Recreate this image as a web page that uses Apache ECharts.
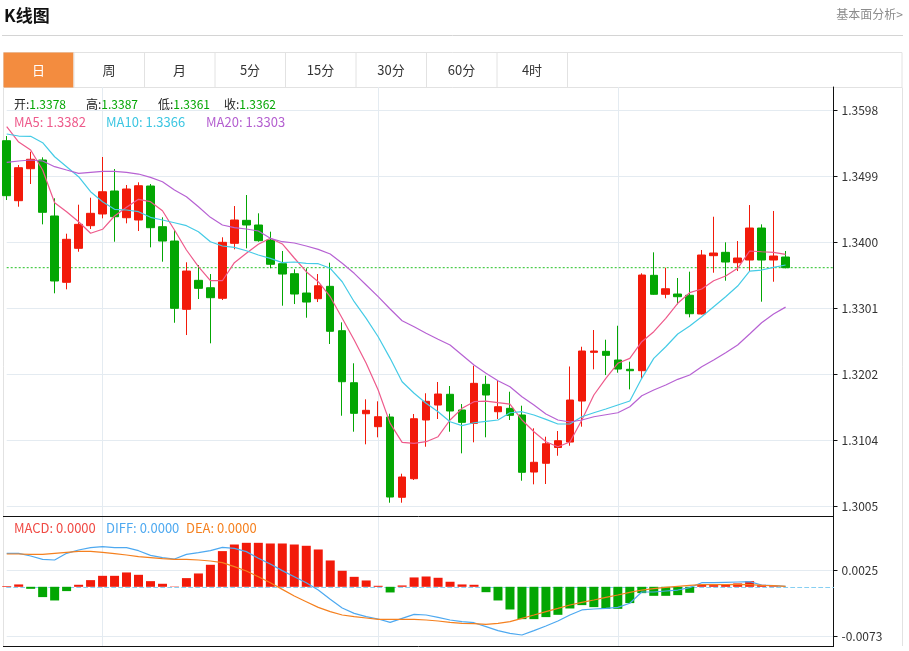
<!DOCTYPE html>
<html>
<head>
<meta charset="utf-8">
<title>K线图</title>
<script src="https://cdn.jsdelivr.net/npm/echarts@6.0.0/dist/echarts.min.js"></script>
<style>
    html, body { margin: 0; padding: 0; background: #fff; }
    #chart { width: 909px; height: 651px; }
</style>
</head>
<body>
<div id="chart"></div>
<script>
// K线 开/收/低/高
var openData = [1.35521, 1.34623, 1.35102, 1.35232, 1.34394, 1.33401, 1.33910, 1.34249, 1.34424, 1.34768,
    1.34368, 1.34334, 1.34843, 1.34234, 1.34019, 1.32997, 1.33431, 1.33320, 1.33162, 1.33985,
    1.34329, 1.34259, 1.34034, 1.33680, 1.33530, 1.33241, 1.33156, 1.33341, 1.32677, 1.31898,
    1.31434, 1.31240, 1.31385, 1.30183, 1.30461, 1.31340, 1.31564, 1.31725, 1.31490, 1.31290,
    1.31874, 1.31464, 1.31515, 1.31415, 1.30561, 1.30692, 1.30928, 1.31010, 1.31624, 1.32353,
    1.32368, 1.32238, 1.32099, 1.32078, 1.33506, 1.33222, 1.33226, 1.33207, 1.32927, 1.33800,
    1.33850, 1.33695, 1.33735, 1.34214, 1.33735, 1.3378];
var closeData = [1.34698, 1.35117, 1.35243, 1.34449, 1.33421, 1.34045, 1.34269, 1.34434, 1.34757, 1.34383,
    1.34798, 1.34847, 1.34219, 1.34019, 1.33012, 1.33570, 1.33311, 1.33171, 1.34000, 1.34334,
    1.34259, 1.34024, 1.33671, 1.33525, 1.33226, 1.33106, 1.33350, 1.32668, 1.31913, 1.31440,
    1.31485, 1.31389, 1.30187, 1.30487, 1.31359, 1.31620, 1.31729, 1.31475, 1.31305, 1.31889,
    1.31714, 1.31539, 1.31410, 1.30557, 1.30707, 1.30985, 1.31030, 1.31639, 1.32373, 1.32373,
    1.32308, 1.32103, 1.32078, 1.33510, 1.33222, 1.33305, 1.33186, 1.32931, 1.33810, 1.33840,
    1.33705, 1.33765, 1.34214, 1.33735, 1.33795, 1.3362];
var lowData = [1.34633, 1.34533, 1.34873, 1.34269, 1.33237, 1.33296, 1.33859, 1.34199, 1.34359, 1.34009,
    1.34284, 1.34169, 1.33925, 1.33710, 1.32796, 1.32612, 1.33151, 1.32488, 1.33136, 1.33895,
    1.33910, 1.34009, 1.33611, 1.33051, 1.33076, 1.32871, 1.33106, 1.32478, 1.31404, 1.31165,
    1.30976, 1.31081, 1.30102, 1.30102, 1.30442, 1.30940, 1.31355, 1.31165, 1.30841, 1.31006,
    1.31081, 1.31355, 1.31340, 1.30431, 1.30377, 1.30382, 1.30805, 1.30955, 1.31240, 1.32099,
    1.32013, 1.32048, 1.31799, 1.31954, 1.33215, 1.33162, 1.33072, 1.32877, 1.32920, 1.33545,
    1.33425, 1.33570, 1.33570, 1.33111, 1.33410, 1.3361];
var highData = [1.35591, 1.35157, 1.35356, 1.35272, 1.34659, 1.34129, 1.34563, 1.34668, 1.35277, 1.35097,
    1.34858, 1.34898, 1.34873, 1.34374, 1.34184, 1.33701, 1.33660, 1.33525, 1.34075, 1.34543,
    1.34708, 1.34434, 1.34159, 1.33870, 1.33596, 1.33611, 1.33525, 1.33695, 1.32802, 1.32189,
    1.31650, 1.31620, 1.31434, 1.30536, 1.31430, 1.31740, 1.31909, 1.31849, 1.31579, 1.32153,
    1.32003, 1.31939, 1.31763, 1.31554, 1.31216, 1.31090, 1.31175, 1.32141, 1.32437, 1.32687,
    1.32542, 1.32751, 1.32213, 1.33536, 1.33850, 1.33620, 1.33466, 1.33560, 1.33885, 1.34383,
    1.34000, 1.34019, 1.34558, 1.34269, 1.34469, 1.3387];

// 均线
var ma5Data = [1.35731, 1.35501, 1.35382, 1.35082, 1.34593, 1.34458, 1.34308, 1.34135, 1.34195, 1.34394,
    1.34524, 1.34644, 1.34608, 1.34473, 1.34184, 1.33885, 1.33635, 1.33425, 1.33425, 1.33695,
    1.33835, 1.33970, 1.34060, 1.33975, 1.33765, 1.33560, 1.33410, 1.33186, 1.32862, 1.32537,
    1.32189, 1.31789, 1.31290, 1.31006, 1.30991, 1.31015, 1.31090, 1.31340, 1.31515, 1.31614,
    1.31624, 1.31599, 1.31579, 1.31340, 1.31165, 1.31015, 1.30940, 1.31010, 1.31340, 1.31714,
    1.31964, 1.32189, 1.32263, 1.32512, 1.32662, 1.32862, 1.33087, 1.33246, 1.33301, 1.33425,
    1.33496, 1.33611, 1.33870, 1.33859, 1.33850, 1.3382];
var ma10Data = [1.35621, 1.35591, 1.35587, 1.35491, 1.35281, 1.35132, 1.34982, 1.34757, 1.34608, 1.34494,
    1.34484, 1.34458, 1.34374, 1.34334, 1.34293, 1.34249, 1.34159, 1.34009, 1.33945, 1.33925,
    1.33874, 1.33810, 1.33760, 1.33695, 1.33705, 1.33686, 1.33680, 1.33611, 1.33410, 1.33111,
    1.32862, 1.32587, 1.32263, 1.31913, 1.31740, 1.31590, 1.31464, 1.31314, 1.31255, 1.31299,
    1.31320, 1.31340, 1.31449, 1.31464, 1.31415, 1.31350, 1.31280, 1.31280, 1.31389, 1.31449,
    1.31504, 1.31564, 1.31624, 1.31964, 1.32263, 1.32437, 1.32627, 1.32747, 1.32886, 1.33036,
    1.33186, 1.33346, 1.33570, 1.33585, 1.33626, 1.3366];
var ma20Data = [1.35198, 1.35217, 1.35232, 1.35217, 1.35132, 1.35082, 1.35033, 1.35048, 1.35063, 1.35063,
    1.35048, 1.35022, 1.34973, 1.34907, 1.34783, 1.34683, 1.34533, 1.34374, 1.34259, 1.34219,
    1.34199, 1.34169, 1.34060, 1.34009, 1.33990, 1.33945, 1.33895, 1.33825, 1.33686, 1.33536,
    1.33361, 1.33186, 1.33002, 1.32826, 1.32737, 1.32638, 1.32548, 1.32463, 1.32313, 1.32163,
    1.32039, 1.31928, 1.31838, 1.31689, 1.31564, 1.31430, 1.31340, 1.31310, 1.31340, 1.31389,
    1.31419, 1.31449, 1.31539, 1.31704, 1.31789, 1.31864, 1.31949, 1.32013, 1.32138, 1.32238,
    1.32347, 1.32463, 1.32627, 1.32796, 1.32927, 1.3303];

// MACD 柱 / DIFF / DEA
var macdData = [0.0001, 0.00035, -0.0003, -0.00153, -0.00203, -0.00064, 0.0003, 0.00099, 0.00163, 0.00163,
    0.00213, 0.00178, 0.00084, 0.00045, 0.00005, 0.00129, 0.00198, 0.00327, 0.0053, 0.00628,
    0.00653, 0.00653, 0.00643, 0.00643, 0.00628, 0.00609, 0.00554, 0.00391, 0.00238, 0.00148,
    0.00094, 0.00015, -0.00084, 0.0002, 0.00139, 0.00153, 0.00134, 0.00075, 0.00035, 0.0003,
    -0.0008, -0.00203, -0.00337, -0.0048, -0.0048, -0.0045, -0.00416, -0.00322, -0.00272, -0.00302,
    -0.00327, -0.00327, -0.00242, -0.00094, -0.00134, -0.00134, -0.00124, -0.00089, 0.00035, 0.00025,
    0.0003, 0.0005, 0.00084, 0.0003, 0.0001, 0];
var diffData = [0.00497, 0.00497, 0.00457, 0.00408, 0.00398, 0.00497, 0.00546, 0.00581, 0.00596, 0.00581,
    0.00581, 0.00536, 0.00467, 0.00433, 0.00413, 0.00482, 0.00507, 0.00536, 0.00586, 0.00571,
    0.00522, 0.00423, 0.00339, 0.0024, 0.0015, 0.00061, -0.00048, -0.00186, -0.00315, -0.00394,
    -0.00443, -0.00478, -0.00528, -0.00468, -0.00409, -0.00419, -0.00453, -0.00493, -0.00518, -0.00533,
    -0.00592, -0.00651, -0.00691, -0.00716, -0.00651, -0.00582, -0.00508, -0.00419, -0.00344, -0.0033,
    -0.0032, -0.00305, -0.00245, -0.00077, -0.00077, -0.00062, -0.00048, -0.00013, 0.00061, 0.00061,
    0.00066, 0.00071, 0.00076, 0.00027, 0.00017, 0.00007];
var deaData = [0.00487, 0.00487, 0.00482, 0.00482, 0.00497, 0.00512, 0.00527, 0.00527, 0.00512, 0.00492,
    0.00472, 0.00447, 0.00433, 0.00418, 0.00408, 0.00408, 0.00398, 0.00383, 0.00358, 0.00299,
    0.00235, 0.0015, 0.00061, -0.00038, -0.00137, -0.00221, -0.00305, -0.00369, -0.00419, -0.00443,
    -0.00463, -0.00483, -0.00483, -0.00483, -0.00483, -0.00493, -0.00508, -0.00528, -0.00542, -0.00547,
    -0.00557, -0.00542, -0.00518, -0.00468, -0.00419, -0.00369, -0.0032, -0.0027, -0.00231, -0.00196,
    -0.00156, -0.00122, -0.00082, -0.00048, -0.00028, -0.00008, 0.00007, 0.00022, 0.00032, 0.00032,
    0.00032, 0.00037, 0.00032, 0.00022, 0.00017, 0.00007];

// 坐标轴刻度
var priceTicks = [1.30048, 1.31036, 1.32024, 1.33012, 1.34000, 1.34988, 1.35976];
var macdTicks = [0.0025, -0.0073];
var monthSplits = [8, 31, 51];   // 月份分隔竖线
var tabNames = ['日', '周', '月', '5分', '15分', '30分', '60分', '4时'];

// 类目: 66根K线 + 右侧4个空位
var categories = [];
for (var i = 0; i < 70; i++) {
    categories.push(String(i + 1));
}

var FONT = '"Microsoft YaHei", "Noto Sans CJK SC", sans-serif';
var UP = '#f21a0a';
var DOWN = '#03a603';
var GRID_LINE = '#e4ebf1';
var PRICE_LINE = '#22c022';

var kData = openData.map(function (o, i) {
    return [o, closeData[i], lowData[i], highData[i]];
});
var last = openData.length - 1;
var lastClose = closeData[last];
var lastColor = closeData[last] >= openData[last] ? UP : DOWN;
// 最新价水平线: 每个类目都取最新收盘价
var lastPriceLine = categories.map(function () { return lastClose; });

var dom = document.getElementById('chart');
var chart = echarts.init(dom, null, { renderer: 'canvas' });

// 页头、选项卡、边框和图例文字
var graphics = [
    { type: 'text', x: 4, y: 16, style: { text: 'K线图', font: 'bold 17px ' + FONT, fill: '#111', textVerticalAlign: 'middle' } },
    { type: 'text', x: 903, y: 14, style: { text: '基本面分析>', font: '12px ' + FONT, fill: '#8c8c8c', textAlign: 'right', textVerticalAlign: 'middle' } },
    { type: 'line', shape: { x1: 2, y1: 35.5, x2: 903, y2: 35.5 }, style: { stroke: '#d4d4d4', lineWidth: 1 } },
    { type: 'rect', shape: { x: 3.5, y: 52.5, width: 898.5, height: 35 }, style: { fill: '#fff', stroke: '#e2e2e2', lineWidth: 1 } },
    { type: 'rect', shape: { x: 3.5, y: 52.5, width: 70, height: 35 }, style: { fill: '#f38c3f' } },
    { type: 'line', shape: { x1: 3.5, y1: 87.5, x2: 3.5, y2: 646 }, style: { stroke: '#e2e2e2', lineWidth: 1 } },
    { type: 'line', shape: { x1: 902.5, y1: 87.5, x2: 902.5, y2: 646 }, style: { stroke: '#e2e2e2', lineWidth: 1 } },
    { type: 'line', shape: { x1: 3, y1: 516.5, x2: 834, y2: 516.5 }, style: { stroke: '#111', lineWidth: 1 }, z: 50 },
    { type: 'line', shape: { x1: 3, y1: 646.5, x2: 834, y2: 646.5 }, style: { stroke: '#111', lineWidth: 1 }, z: 50 }
];
tabNames.forEach(function (name, k) {
    var x0 = 3.5 + 70.5 * k;
    if (k > 0) {
        graphics.push({ type: 'line', shape: { x1: x0, y1: 52.5, x2: x0, y2: 87.5 }, style: { stroke: '#e2e2e2', lineWidth: 1 } });
    }
    graphics.push({
        type: 'text', x: x0 + 35, y: 70,
        style: { text: name, font: '13px ' + FONT, fill: k === 0 ? '#fff' : '#333', textAlign: 'center', textVerticalAlign: 'middle' }
    });
});
graphics.push({ type: 'line', shape: { x1: 567.5, y1: 52.5, x2: 567.5, y2: 87.5 }, style: { stroke: '#e2e2e2', lineWidth: 1 } });

function pairText(x, y, key, keyColor, val, valColor, size) {
    return {
        type: 'text', x: x, y: y, z: 100,
        style: {
            text: '{k|' + key + '}{v|' + val + '}',
            textVerticalAlign: 'middle',
            rich: {
                k: { font: size + 'px ' + FONT, fill: keyColor },
                v: { font: size + 'px ' + FONT, fill: valColor }
            }
        }
    };
}
graphics.push(pairText(14, 104, '开:', '#222', openData[last].toFixed(4), lastColor, 12));
graphics.push(pairText(86, 104, '高:', '#222', highData[last].toFixed(4), lastColor, 12));
graphics.push(pairText(158, 104, '低:', '#222', lowData[last].toFixed(4), lastColor, 12));
graphics.push(pairText(224, 104, '收:', '#222', closeData[last].toFixed(4), lastColor, 12));
graphics.push(pairText(14, 122, 'MA5: ', '#ee5a8b', ma5Data[last].toFixed(4), '#ee5a8b', 13));
graphics.push(pairText(106, 122, 'MA10: ', '#3cc6e2', ma10Data[last].toFixed(4), '#3cc6e2', 13));
graphics.push(pairText(206, 122, 'MA20: ', '#b45fd0', ma20Data[last].toFixed(4), '#b45fd0', 13));
graphics.push(pairText(14, 528, 'MACD: ', '#f04a44', '0.0000', '#f04a44', 13));
graphics.push(pairText(106, 528, 'DIFF: ', '#4ea9f0', '0.0000', '#4ea9f0', 13));
graphics.push(pairText(186, 528, 'DEA: ', '#f5801f', '0.0000', '#f5801f', 13));

var splitFn = function (idx) {
    return monthSplits.indexOf(idx) >= 0;
};

var option = {
    animation: false,
    backgroundColor: '#fff',
    textStyle: { fontFamily: FONT },
    graphic: graphics,
    grid: [
        { left: 6.7, right: 75.5, top: 87, height: 429 },
        { left: 6.7, right: 75.5, top: 516, height: 130 }
    ],
    xAxis: [
        {
            type: 'category', gridIndex: 0, data: categories, boundaryGap: false,
            axisLine: { show: false }, axisTick: { show: false }, axisLabel: { show: false },
            splitLine: { show: true, interval: splitFn, lineStyle: { color: GRID_LINE } }
        },
        {
            type: 'category', gridIndex: 1, data: categories, boundaryGap: false,
            axisLine: { show: true, onZero: true, lineStyle: { color: '#86cff2', type: [4, 3], width: 1 } },
            axisTick: { show: false }, axisLabel: { show: false },
            splitLine: { show: true, interval: splitFn, lineStyle: { color: GRID_LINE } }
        }
    ],
    yAxis: [
        {
            type: 'value', gridIndex: 0, position: 'right',
            min: 1.29903, max: 1.36325,
            axisLine: { show: true, lineStyle: { color: '#111' } },
            axisTick: { show: true, length: 4, customValues: priceTicks, lineStyle: { color: '#111' } },
            axisLabel: {
                customValues: priceTicks, margin: 8, color: '#333', fontSize: 12,
                formatter: function (v) { return v.toFixed(4); }
            },
            splitLine: { show: true, lineStyle: { color: GRID_LINE } }
        },
        {
            type: 'value', gridIndex: 1, position: 'right',
            min: -0.00879, max: 0.010512,
            axisLine: { show: true, lineStyle: { color: '#111' } },
            axisTick: { show: true, length: 4, customValues: macdTicks, lineStyle: { color: '#111' } },
            axisLabel: {
                customValues: macdTicks, margin: 8, color: '#333', fontSize: 12,
                formatter: function (v) { return v.toFixed(4); }
            },
            splitLine: { show: true, lineStyle: { color: GRID_LINE } }
        }
    ],
    series: [
        {
            // 最新价虚线
            name: 'last', type: 'line', xAxisIndex: 0, yAxisIndex: 0, data: lastPriceLine,
            symbol: 'none', silent: true, color: PRICE_LINE, z: 1,
            lineStyle: { color: PRICE_LINE, type: [2, 2], width: 1 },
            // 右侧价格标签
            markLine: {
                silent: true, symbol: ['none', 'none'], precision: 5,
                lineStyle: { opacity: 0 },
                data: [{ yAxis: lastClose }],
                label: {
                    position: 'end', distance: 3,
                    formatter: lastClose.toFixed(4),
                    color: '#fff', backgroundColor: lastColor,
                    fontSize: 12, lineHeight: 12, padding: [3, 24, 3, 6]
                }
            }
        },
        {
            name: 'K', type: 'candlestick', xAxisIndex: 0, yAxisIndex: 0,
            data: kData, barWidth: 8, clip: false,
            itemStyle: { color: UP, color0: DOWN, borderColor: UP, borderColor0: DOWN, borderWidth: 1 }
        },
        {
            name: 'MA5', type: 'line', xAxisIndex: 0, yAxisIndex: 0, data: ma5Data,
            symbol: 'none', silent: true, color: '#ee5a8b', lineStyle: { color: '#ee5a8b', width: 1.2 }
        },
        {
            name: 'MA10', type: 'line', xAxisIndex: 0, yAxisIndex: 0, data: ma10Data,
            symbol: 'none', silent: true, color: '#45cbe6', lineStyle: { color: '#45cbe6', width: 1.2 }
        },
        {
            name: 'MA20', type: 'line', xAxisIndex: 0, yAxisIndex: 0, data: ma20Data,
            symbol: 'none', silent: true, color: '#b762d3', lineStyle: { color: '#b762d3', width: 1.2 }
        },
        {
            name: 'MACD', type: 'bar', xAxisIndex: 1, yAxisIndex: 1, data: macdData,
            barWidth: 9,
            itemStyle: {
                color: function (p) { return p.value >= 0 ? UP : DOWN; }
            }
        },
        {
            name: 'DIFF', type: 'line', xAxisIndex: 1, yAxisIndex: 1, data: diffData,
            symbol: 'none', silent: true, lineStyle: { color: '#4ea9f0', width: 1.2 }
        },
        {
            name: 'DEA', type: 'line', xAxisIndex: 1, yAxisIndex: 1, data: deaData,
            symbol: 'none', silent: true, lineStyle: { color: '#f5801f', width: 1.2 }
        }
    ]
};

if (option && typeof option === 'object') {
    chart.setOption(option, true);
}
</script>
</body>
</html>
